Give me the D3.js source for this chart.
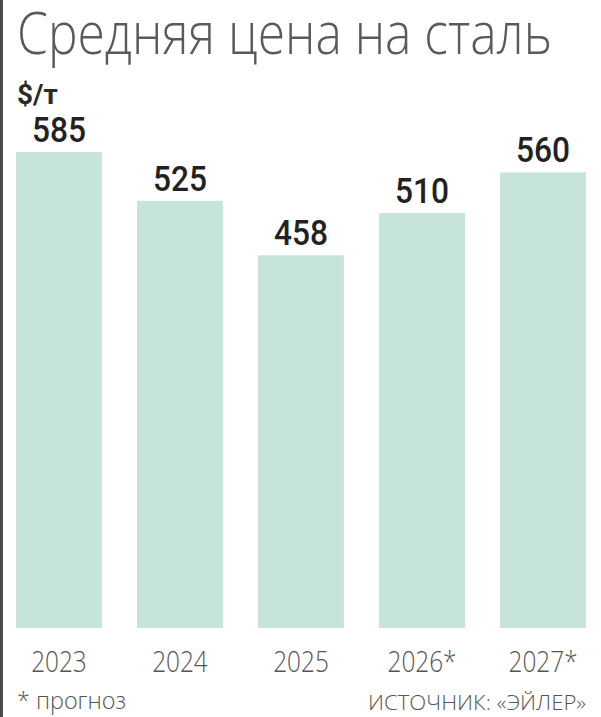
<!DOCTYPE html>
<html>
<head>
<meta charset="utf-8">
<script src="https://cdn.jsdelivr.net/npm/d3@7"></script>
<style>
  html, body { margin: 0; padding: 0; background: #fff; }
  svg { display: block; }
</style>
</head>
<body>
<div id="chart"></div>
<script>
// data
const years = ['2023', '2024', '2025', '2026*', '2027*'];
const prices = [585, 525, 458, 510, 560];

const W = 601, H = 717;
const BAR_COLOR = '#c7e4db';
const LIGHT_FONT = '"Open Sans", Roboto, sans-serif';

let svg = d3.select('#chart').append('svg')
    .attr('width', W)
    .attr('height', H);

// dark strip at the left edge of the scan
svg.append('rect')
    .attr('x', 0).attr('y', 0)
    .attr('width', 3).attr('height', H)
    .attr('fill', '#4a4a4a');

// title
svg.append('text')
    .attr('x', 17).attr('y', 54)
    .attr('font-family', LIGHT_FONT)
    .attr('font-weight', 300)
    .attr('font-size', 58)
    .attr('fill', '#5a5a5a')
    .attr('textLength', 535)
    .attr('lengthAdjust', 'spacingAndGlyphs')
    .text('Средняя цена на сталь');

// unit
svg.append('text')
    .attr('x', 17).attr('y', 104)
    .attr('font-family', 'Roboto, sans-serif')
    .attr('font-weight', 700)
    .attr('font-size', 28)
    .attr('fill', '#2a2a2a')
    .text('$/т');

let x = d3.scaleBand()
    .domain(years)
    .range([16, 586])
    .paddingInner(0.29)
    .paddingOuter(0);

let y = d3.scaleLinear()
    .domain([0, 585])
    .range([628, 152]);

let rows = years.map((yr, i) => ({ year: yr, value: prices[i] }));

svg.append('g')
    .selectAll('rect')
    .data(rows)
    .join('rect')
    .attr('x', d => x(d.year))
    .attr('y', d => y(d.value))
    .attr('width', x.bandwidth())
    .attr('height', d => y(0) - y(d.value))
    .attr('fill', BAR_COLOR);

// value labels
svg.append('g')
    .selectAll('text')
    .data(rows)
    .join('text')
    .attr('transform', d => 'translate(' + (x(d.year) + x.bandwidth() / 2) + ',' + (y(d.value) - 10) + ') scale(0.88,1)')
    .attr('text-anchor', 'middle')
    .attr('font-family', 'Roboto, sans-serif')
    .attr('font-weight', 500)
    .attr('font-size', 36)
    .attr('fill', '#222')
    .text(d => d.value);

// year axis
let gX = svg.append('g')
    .attr('transform', 'translate(0,' + y(0) + ')')
    .call(d3.axisBottom(x).tickSize(0));
gX.select('.domain').remove();
gX.selectAll('.tick text')
    .attr('y', 44)
    .attr('dy', 0)
    .attr('transform', 'scale(0.84,1)')
    .attr('font-family', LIGHT_FONT)
    .attr('font-weight', 300)
    .attr('font-size', 29)
    .attr('fill', '#555');

// footnotes
svg.append('text')
    .attr('x', 17).attr('y', 709)
    .attr('font-family', LIGHT_FONT)
    .attr('font-weight', 300)
    .attr('font-size', 23)
    .attr('fill', '#555')
    .attr('textLength', 109)
    .attr('lengthAdjust', 'spacingAndGlyphs')
    .text('* прогноз');

svg.append('text')
    .attr('x', 586).attr('y', 710)
    .attr('text-anchor', 'end')
    .attr('font-family', LIGHT_FONT)
    .attr('font-weight', 300)
    .attr('font-size', 21)
    .attr('fill', '#555')
    .attr('textLength', 218)
    .attr('lengthAdjust', 'spacingAndGlyphs')
    .text('ИСТОЧНИК: «ЭЙЛЕР»');
</script>
</body>
</html>
